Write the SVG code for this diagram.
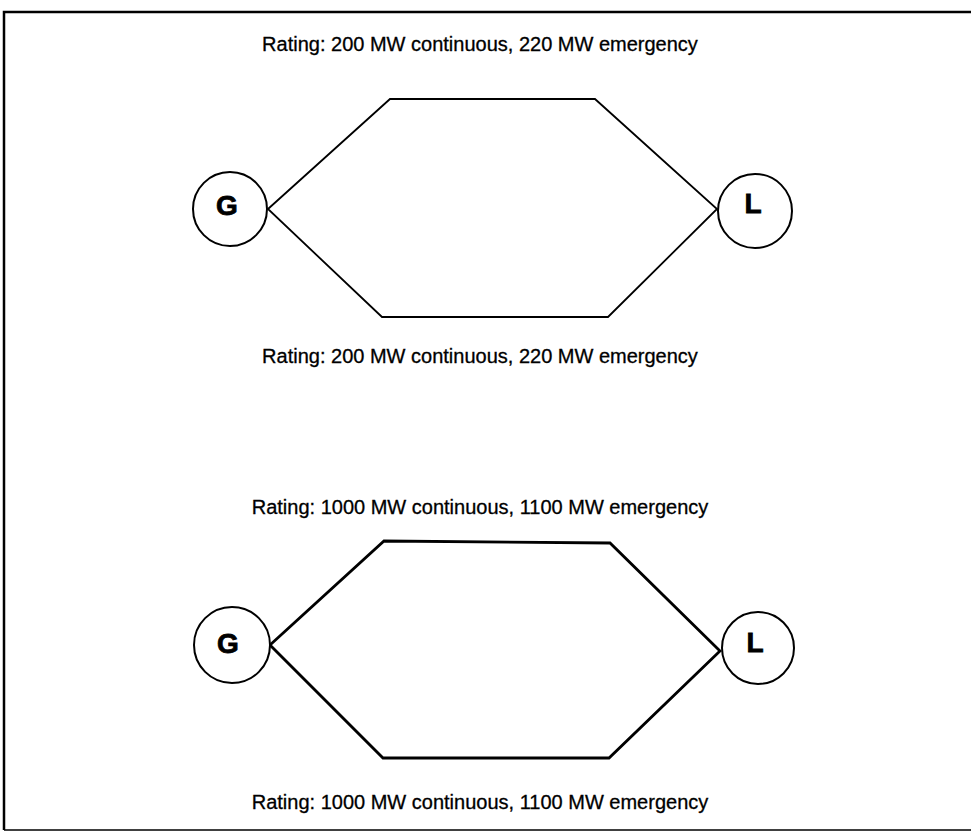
<svg xmlns="http://www.w3.org/2000/svg" width="971" height="833" viewBox="0 0 971 833">
<style>
.lbl{font-family:"Liberation Sans",Arial,sans-serif;font-size:20px;fill:#000;stroke:#000;stroke-width:0.3;text-anchor:middle}
.nd{font-family:"Liberation Sans",Arial,sans-serif;font-size:28px;font-weight:bold;fill:#000;stroke:#000;stroke-width:0.8;text-anchor:middle}
.c{fill:#fff;stroke:#000;stroke-width:2}
.w1{fill:none;stroke:#000;stroke-width:1.8;stroke-linejoin:miter}
.w2{fill:none;stroke:#000;stroke-width:2.8;stroke-linejoin:miter}
</style>
<rect x="0" y="0" width="971" height="833" fill="#fff"/>
<path d="M4,830 V12 H971" fill="none" stroke="#000" stroke-width="2.5"/>
<path d="M4,830 H971" fill="none" stroke="#000" stroke-width="1.5"/>
<g id="connectors">
<polygon class="w1" points="268,209 390,99 595,99 717,209 608,317 382,317"/>
<polygon class="w2" points="270,645 384,541 610,543 720,651 609,758 383,758"/>
</g>
<g id="G1"><circle class="c" cx="230" cy="209" r="37"/><text class="nd" x="227" y="215">G</text></g>
<g id="L1"><circle class="c" cx="755" cy="211" r="37"/><text class="nd" x="753" y="213">L</text></g>
<g id="G2"><circle class="c" cx="232" cy="645" r="38"/><text class="nd" x="228" y="653">G</text></g>
<g id="L2"><circle class="c" cx="758" cy="648" r="36"/><text class="nd" x="755" y="652">L</text></g>
<g id="labels">
<text class="lbl" x="480" y="51">Rating: 200 MW continuous, 220 MW emergency</text>
<text class="lbl" x="480" y="363">Rating: 200 MW continuous, 220 MW emergency</text>
<text class="lbl" x="480" y="514">Rating: 1000 MW continuous, 1100 MW emergency</text>
<text class="lbl" x="480" y="809">Rating: 1000 MW continuous, 1100 MW emergency</text>
</g>
</svg>
